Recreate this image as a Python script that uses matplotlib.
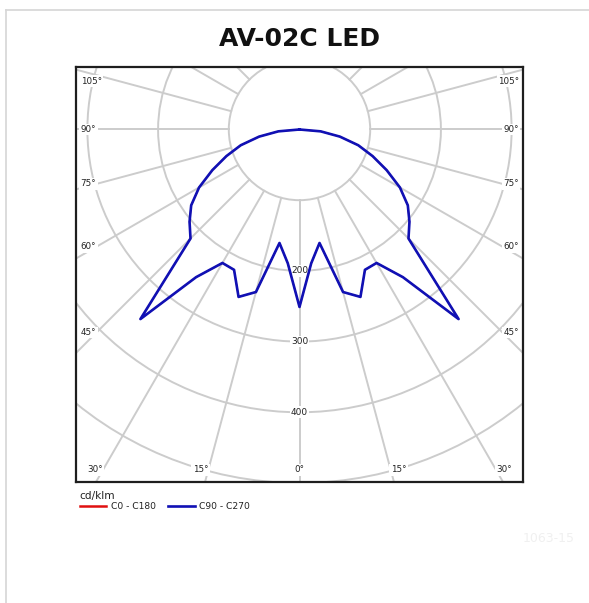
import numpy as np
import matplotlib
matplotlib.use("Agg")
from matplotlib import pyplot as plt
from matplotlib.patches import Circle
from matplotlib.lines import Line2D

angles = [-90, -85, -80, -75, -70, -65, -60, -55, -50, -45, -40, -35, -30, -25, -20, -15, -10, -5,
          0, 5, 10, 15, 20, 25, 30, 35, 40, 45, 50, 55, 60, 65, 70, 75, 80, 85, 90]
c0_c180 = [0, 30, 58, 86, 110, 136, 164, 187, 203, 218, 350, 255, 218, 219, 252, 238, 163, 190,
           251, 190, 163, 238, 252, 219, 218, 255, 350, 218, 203, 187, 164, 136, 110, 86, 58, 30, 0]
c90_c270 = [0, 30, 58, 86, 110, 136, 164, 187, 203, 218, 350, 255, 218, 219, 252, 238, 163, 190,
            251, 190, 163, 238, 252, 219, 218, 255, 350, 218, 203, 187, 164, 136, 110, 86, 58, 30, 0]
rings = [100, 200, 300, 400, 500, 600]
ring_labels = [200, 300, 400]
side_angles = [45, 60, 75, 90, 105]
bottom_angles = [0, 15, 30]

grid_col = '#cccccc'
lab_font = 6.3

fig = plt.figure(figsize=(5.89, 6.03), dpi=100)
W, H = 589, 603

# cadre gris du fond
fig.add_artist(Line2D([5.5 / W, 5.5 / W], [0, 1 - 10 / H], color='#d6d6d6', lw=1.2))
fig.add_artist(Line2D([5.5 / W, 1], [1 - 10 / H, 1 - 10 / H], color='#d6d6d6', lw=1.2))

fig.text(299.5 / W, 1 - 39 / H, 'AV-02C LED', ha='center', va='center',
         fontsize=18, fontweight='bold', family='DejaVu Sans', color='#111111')

ax = fig.add_axes([76 / W, 1 - 482 / H, 447 / W, 415 / H])
ax.set_xlim(-316.1, 316.1)
ax.set_ylim(-498.6, 88.4)
ax.set_xticks([])
ax.set_yticks([])
for sp in ax.spines.values():
    sp.set_linewidth(1.6)
    sp.set_color('#1e1e1e')

for r in rings:
    ax.add_patch(Circle((0, 0), r, fill=False, ec=grid_col, lw=1.4, zorder=1))
for a in range(0, 360, 15):
    t = np.radians(a)
    ax.plot([100 * np.sin(t), 1000 * np.sin(t)], [-100 * np.cos(t), -1000 * np.cos(t)],
            color=grid_col, lw=1.4, zorder=1)

box = dict(facecolor='white', edgecolor='none', pad=1.0)
for r in ring_labels:
    ax.text(0, -r, str(r), ha='center', va='center', fontsize=6.5, color='#222222', bbox=box, zorder=3)

ytop = ax.get_ylim()[1] - 20
for a in side_angles:
    t = np.radians(a)
    y = min(-287 * np.cos(t) / np.sin(t), ytop)
    ax.text(-309.5, y, '%d°' % a, ha='left', va='center', fontsize=lab_font, color='#222222', bbox=box, zorder=3)
    ax.text(310.5, y, '%d°' % a, ha='right', va='center', fontsize=lab_font, color='#222222', bbox=box, zorder=3)

yb = -481.6
for a in bottom_angles:
    x = -yb * np.tan(np.radians(a))
    if a == 0:
        ax.text(0, yb, '0°', ha='center', va='center', fontsize=lab_font, color='#222222', bbox=box, zorder=3)
    else:
        ax.text(-x, yb, '%d°' % a, ha='right', va='center', fontsize=lab_font, color='#222222', bbox=box, zorder=3)
        ax.text(x, yb, '%d°' % a, ha='left', va='center', fontsize=lab_font, color='#222222', bbox=box, zorder=3)

th = np.radians(angles)
l1, = ax.plot(np.array(c0_c180) * np.sin(th), -np.array(c0_c180) * np.cos(th),
              color='#e01010', lw=1.0, zorder=4, label='C0 - C180')
l2, = ax.plot(np.array(c90_c270) * np.sin(th), -np.array(c90_c270) * np.cos(th),
              color='#1010b4', lw=1.9, zorder=5, label='C90 - C270')

leg = ax.legend(handles=[l1, l2], loc='upper left', bbox_to_anchor=(78 / W, 1 - 489 / H),
                bbox_transform=fig.transFigure, ncol=2, frameon=False, fontsize=6.6,
                title='cd/klm', title_fontsize=7.6, alignment='left', handlelength=2.85,
                handletextpad=0.5, columnspacing=1.4, labelspacing=0.1, borderpad=0.2,
                borderaxespad=0)
leg.get_lines()[0].set_linewidth(1.8)
for txt in leg.get_texts():
    txt.set_color('#222222')
leg.get_title().set_color('#222222')

fig.text(549 / W, 1 - 538 / H, '1063-15', ha='center', va='center', fontsize=9, color='#f0f0f0')

fig.savefig('out.png', dpi=100)
